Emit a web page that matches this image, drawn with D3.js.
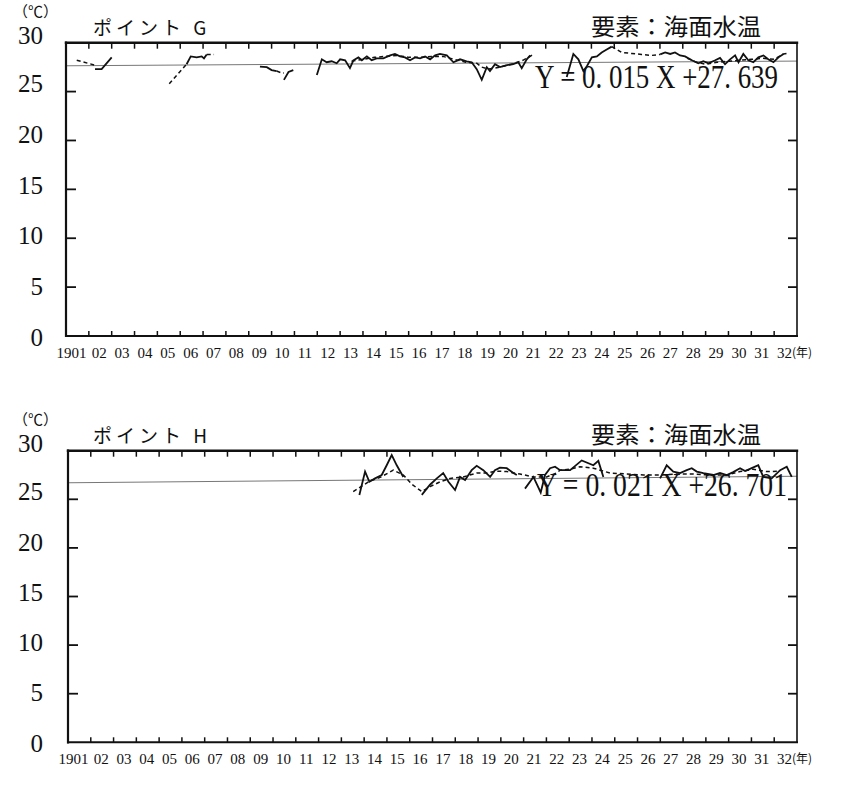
<!DOCTYPE html>
<html>
<head>
<meta charset="utf-8">
<script src="https://cdn.jsdelivr.net/npm/d3@7"></script>
<style>
  html, body { margin: 0; padding: 0; background: #fff; }
  svg { display: block; }
  .num { font-family: "Liberation Serif", "DejaVu Serif", serif; fill: #111; }
  .jp  { font-family: "Noto Sans CJK JP", "Noto Sans", sans-serif; fill: #111; }
</style>
</head>
<body>
<svg id="chart" width="850" height="786"></svg>
<script>
// --- data ---
const years = d3.range(1901, 1933);
const yTicks = [0, 5, 10, 15, 20, 25, 30];
const panelNames = ["ポイント G", "ポイント H"];
const elementLabel = "要素：海面水温";
const trendSlope = [0.015, 0.021];
const trendIntercept = [27.639, 26.701];
const trendText = ["Y = 0. 015 X +27. 639", "Y = 0. 021 X +26. 701"];

// point G : monthly SST (solid), segments split at missing months
const gSolid = [
  [[1902.27, 27.3], [1902.56, 27.3], [1903.0, 28.5]],
  [[1906.28, 27.8], [1906.46, 28.6], [1906.72, 28.5], [1906.94, 28.6], [1907.04, 28.4], [1907.16, 28.8]],
  [[1909.49, 27.55], [1909.79, 27.5], [1910.0, 27.2], [1910.22, 27.1]],
  [[1910.54, 26.2], [1910.74, 27.0], [1910.95, 27.2]],
  [[1911.98, 26.7], [1912.2, 28.3], [1912.41, 28.0], [1912.63, 28.1], [1912.85, 27.9], [1913.0, 28.3],
   [1913.22, 28.2], [1913.43, 27.4], [1913.58, 28.2], [1913.8, 28.5], [1913.95, 28.2], [1914.17, 28.6],
   [1914.38, 28.2], [1914.6, 28.4], [1914.89, 28.4], [1915.19, 28.7], [1915.4, 28.85], [1915.62, 28.6],
   [1915.84, 28.5], [1916.06, 28.2], [1916.28, 28.5], [1916.5, 28.4], [1916.72, 28.6], [1916.94, 28.3],
   [1917.16, 28.7], [1917.37, 28.85], [1917.67, 28.7], [1917.96, 28.0], [1918.25, 28.3], [1918.54, 28.1],
   [1918.76, 28.0], [1918.98, 27.3], [1919.2, 26.2], [1919.42, 27.5], [1919.56, 27.1], [1919.78, 27.8],
   [1920.0, 27.5], [1920.3, 27.7], [1920.58, 27.8], [1920.8, 28.0], [1920.95, 27.4], [1921.17, 28.3],
   [1921.32, 28.7]],
  [[1922.92, 26.5], [1923.21, 28.85], [1923.43, 28.3], [1923.65, 27.1], [1923.8, 27.6], [1924.02, 28.5],
   [1924.24, 28.6], [1924.45, 29.0], [1924.67, 29.3], [1924.89, 29.6]],
  [[1927.01, 28.8], [1927.23, 29.0], [1927.45, 28.85], [1927.66, 29.0], [1927.88, 28.7], [1928.1, 28.6],
   [1928.4, 28.2], [1928.68, 27.9], [1928.9, 28.1], [1929.12, 27.9], [1929.42, 28.2], [1929.63, 28.45],
   [1929.85, 27.8], [1930.07, 28.3], [1930.29, 28.7], [1930.44, 28.0], [1930.65, 28.85], [1930.87, 28.2],
   [1931.09, 28.0], [1931.31, 28.5], [1931.53, 28.7], [1931.74, 28.3], [1931.97, 28.0], [1932.19, 28.5],
   [1932.41, 28.85]]
];
// point G : smoothed / bridged values (dotted)
const gDotted = [
  [[1901.47, 28.2], [1901.8, 28.0], [1902.27, 27.7]],
  [[1905.52, 25.8], [1905.9, 26.8], [1906.28, 27.8]],
  [[1907.16, 28.8], [1907.48, 28.8]],
  [[1910.22, 27.1], [1910.44, 26.9], [1910.54, 26.9]],
  [[1913.5, 28.1], [1914.0, 28.3], [1914.5, 28.5], [1915.0, 28.6], [1915.5, 28.7], [1916.0, 28.5],
   [1916.5, 28.5], [1917.0, 28.6], [1917.5, 28.6], [1918.0, 28.3], [1918.5, 28.0], [1918.98, 27.9],
   [1919.2, 27.5], [1919.5, 27.3], [1920.0, 27.5], [1920.5, 27.8], [1921.0, 28.2], [1921.32, 28.6],
   [1921.45, 28.8]],
  [[1924.89, 29.6], [1925.33, 29.0], [1925.77, 28.9], [1926.2, 28.8], [1926.64, 28.7], [1927.0, 28.8]],
  [[1928.2, 28.4], [1928.6, 28.0], [1929.0, 27.8], [1929.5, 28.0], [1930.0, 28.1], [1930.5, 28.2],
   [1931.0, 28.3], [1931.5, 28.4], [1932.0, 28.3], [1932.41, 28.85], [1932.55, 28.9]]
];

// point H
const hSolid = [
  [[1913.79, 25.45], [1914.04, 27.85], [1914.23, 26.8], [1914.48, 27.15], [1914.77, 27.5], [1914.99, 28.5],
   [1915.21, 29.55], [1915.43, 28.5], [1915.72, 27.3]],
  [[1916.53, 25.45], [1916.89, 26.5], [1917.19, 27.15], [1917.47, 27.7], [1917.7, 26.8], [1917.99, 25.95],
   [1918.21, 27.3], [1918.43, 26.98], [1918.72, 28.0], [1918.94, 28.45], [1919.23, 28.0], [1919.53, 27.3],
   [1919.74, 28.0], [1919.96, 28.25], [1920.26, 28.2], [1920.55, 27.7], [1920.7, 27.5]],
  [[1921.06, 26.1], [1921.43, 27.3], [1921.75, 25.7], [1921.94, 27.5], [1922.16, 28.2], [1922.38, 28.35],
   [1922.6, 28.0], [1923.04, 28.0], [1923.55, 29.0], [1924.06, 28.5], [1924.28, 28.95], [1924.5, 27.3]],
  [[1926.99, 27.15], [1927.28, 28.5], [1927.57, 27.85], [1927.87, 27.7], [1928.16, 28.0], [1928.38, 28.2],
   [1928.6, 27.85], [1928.89, 27.7], [1929.33, 27.5], [1929.62, 27.7], [1929.92, 27.5], [1930.2, 27.8],
   [1930.5, 28.2], [1930.72, 27.9], [1931.01, 28.2], [1931.3, 28.5], [1931.52, 27.3], [1931.89, 27.15],
   [1932.26, 28.0], [1932.55, 28.35], [1932.77, 27.3]]
];
const hDotted = [
  [[1913.52, 25.8], [1914.26, 26.9], [1914.7, 27.25], [1915.28, 28.0], [1915.72, 27.5], [1916.09, 26.55],
   [1916.53, 25.8], [1916.89, 26.3], [1917.33, 26.8], [1917.77, 27.15], [1918.35, 27.3], [1918.94, 27.7],
   [1919.38, 27.7], [1919.82, 27.9], [1920.26, 27.85], [1920.84, 27.6], [1921.43, 27.3], [1922.01, 27.3],
   [1922.45, 27.7], [1922.6, 28.0], [1923.04, 28.1], [1923.48, 28.35], [1924.06, 28.2], [1924.79, 27.7],
   [1925.53, 27.6], [1926.26, 27.5], [1926.99, 27.5], [1927.72, 27.6], [1928.45, 27.6], [1929.18, 27.5],
   [1929.92, 27.5], [1930.5, 27.85], [1931.08, 28.1], [1931.67, 27.85], [1932.26, 27.9]]
];

const solidSeries = [gSolid, hSolid];
const dottedSeries = [gDotted, hDotted];

// --- layout ---
const layout = [
  { left: 66, right: 797, top: 42.7, bottom: 336, eqX: 535, eqW: 243 },
  { left: 68, right: 797, top: 450.7, bottom: 742.3, eqX: 537, eqW: 250 }
];

const svg = d3.select("#chart");

function drawPanel(i) {
  const L = layout[i];
  const g = svg.append("g");

  const x = d3.scaleLinear().domain([1901, 1933]).range([L.left, L.right]);
  const y = d3.scaleLinear().domain([0, 30]).range([L.bottom, L.top]);
  // tick labels in the scan sit on a slightly wider spacing than the ticks
  const yLab = d3.scaleLinear().domain([0, 25]).range([L.bottom + 1, L.top + 41]);

  // trend line (thin gray)
  g.append("line")
    .attr("x1", x(1901)).attr("x2", x(1933))
    .attr("y1", y(trendIntercept[i])).attr("y2", y(trendIntercept[i] + trendSlope[i] * 32))
    .attr("stroke", "#777").attr("stroke-width", 1);

  const line = d3.line().x(d => x(d[0])).y(d => y(d[1]));

  g.selectAll(".dot-seg").data(dottedSeries[i]).join("path")
    .attr("d", line).attr("fill", "none")
    .attr("stroke", "#111").attr("stroke-width", 1.5)
    .attr("stroke-dasharray", "4,3");

  g.selectAll(".sol-seg").data(solidSeries[i]).join("path")
    .attr("d", line).attr("fill", "none")
    .attr("stroke", "#111").attr("stroke-width", 1.8)
    .attr("stroke-linejoin", "miter");

  // frame
  const frame = [
    [L.left, L.top, L.right, L.top, 2.4],
    [L.left, L.top, L.left, L.bottom, 2.2],
    [L.left, L.bottom, L.right, L.bottom, 2],
    [L.right, L.top, L.right, L.bottom, 1.6]
  ];
  g.selectAll(".frame").data(frame).join("line")
    .attr("x1", d => d[0]).attr("y1", d => d[1]).attr("x2", d => d[2]).attr("y2", d => d[3])
    .attr("stroke", "#111").attr("stroke-width", d => d[4]).attr("stroke-linecap", "square");

  // year ticks (inward, top and bottom)
  const inner = years.slice(1);
  g.append("g").selectAll("line").data(inner).join("line")
    .attr("x1", d => x(d)).attr("x2", d => x(d))
    .attr("y1", L.top).attr("y2", L.top + 6)
    .attr("stroke", "#111").attr("stroke-width", 1.5);
  g.append("g").selectAll("line").data(inner).join("line")
    .attr("x1", d => x(d)).attr("x2", d => x(d))
    .attr("y1", L.bottom).attr("y2", L.bottom - 5)
    .attr("stroke", "#111").attr("stroke-width", 1.5);

  // value ticks (inward, left and right)
  const vt = yTicks.filter(v => v > 0 && v < 30);
  g.append("g").selectAll("line").data(vt).join("line")
    .attr("x1", L.left).attr("x2", L.left + 10)
    .attr("y1", d => y(d)).attr("y2", d => y(d))
    .attr("stroke", "#111").attr("stroke-width", 1.8);
  g.append("g").selectAll("line").data(vt).join("line")
    .attr("x1", L.right).attr("x2", L.right - 9)
    .attr("y1", d => y(d)).attr("y2", d => y(d))
    .attr("stroke", "#111").attr("stroke-width", 1.8);

  // value labels (30 sits just above the frame, under the unit)
  g.append("g").selectAll("text").data(yTicks).join("text")
    .attr("class", "num")
    .attr("x", 43).attr("y", d => d === 30 ? L.top + 1 : yLab(d))
    .attr("dy", d => d === 30 ? 0 : "0.34em")
    .attr("text-anchor", "end")
    .attr("font-size", 25)
    .text(d => d);

  // year labels
  g.append("g").selectAll("text").data(years).join("text")
    .attr("class", "num")
    .attr("x", (d, k) => k === 0 ? x(d + 0.5) + 9 : x(d + 0.5) - 1)
    .attr("y", L.bottom + 22)
    .attr("text-anchor", (d, k) => k === 0 ? "end" : "middle")
    .attr("font-size", 15)
    .text((d, k) => k === 0 ? String(d) : String(d % 100).padStart(2, "0"));
  g.append("text").attr("class", "jp")
    .attr("x", L.right - 5).attr("y", L.bottom + 21)
    .attr("font-size", 12)
    .text("(年)");

  // unit, titles
  g.append("text").attr("class", "jp")
    .attr("x", 13).attr("y", L.top - 26)
    .attr("font-size", 15)
    .text("（℃）");
  g.append("text").attr("class", "jp")
    .attr("x", 93).attr("y", L.top - 8)
    .attr("font-size", 19).attr("letter-spacing", 4)
    .text(panelNames[i]);
  g.append("text").attr("class", "jp")
    .attr("x", 591).attr("y", L.top - 8)
    .attr("font-size", 23)
    .attr("textLength", 170).attr("lengthAdjust", "spacingAndGlyphs")
    .text(elementLabel);

  // regression equation
  g.append("text").attr("class", "num")
    .attr("x", L.eqX).attr("y", L.top + 45)
    .attr("font-size", 33)
    .attr("textLength", L.eqW).attr("lengthAdjust", "spacingAndGlyphs")
    .text(trendText[i]);
}

drawPanel(0);
drawPanel(1);
</script>
</body>
</html>
